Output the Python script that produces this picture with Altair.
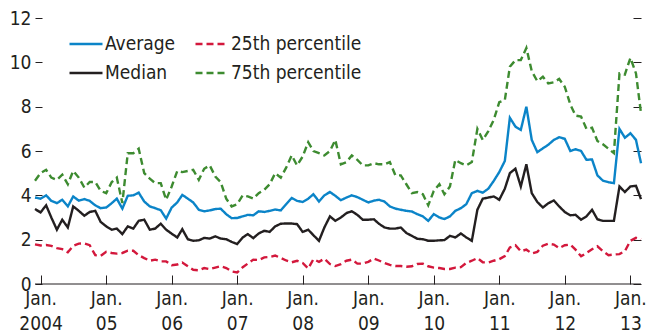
import altair as alt
import pandas as pd

# Monthly observations, Dec 2003 - Mar 2013
dates = pd.date_range("2003-12-01", periods=112, freq="MS").strftime("%Y-%m-%d").tolist()

series_names = ["Average", "Median", "25th percentile", "75th percentile"]

average = [3.90, 3.85, 4.00, 3.75, 3.65, 3.80, 3.50, 3.95, 3.76, 3.83,
           3.75, 3.55, 3.42, 3.45, 3.65, 3.85, 3.40, 3.98, 4.00, 4.12,
           3.72, 3.50, 3.42, 3.33, 2.95, 3.45, 3.68, 4.02, 3.85, 3.68,
           3.35, 3.28, 3.32, 3.38, 3.40, 3.15, 2.97, 2.98, 3.05, 3.12,
           3.10, 3.28, 3.25, 3.30, 3.36, 3.32, 3.60, 3.88, 3.75, 3.70,
           3.85, 4.05, 3.72, 4.00, 4.15, 3.98, 3.78, 3.90, 4.00, 3.92,
           3.80, 3.68, 3.76, 3.80, 3.72, 3.50, 3.40, 3.35, 3.30, 3.27,
           3.15, 3.05, 2.85, 3.15, 3.00, 2.93, 3.05, 3.30, 3.42, 3.60,
           4.10, 4.20, 4.12, 4.30, 4.65, 5.05, 5.55, 7.50, 7.10, 6.95,
           8.00, 6.50, 5.95, 6.12, 6.28, 6.50, 6.62, 6.55, 6.00, 6.08,
           6.00, 5.60, 5.62, 4.90, 4.66, 4.59, 4.55, 7.00, 6.60, 6.80,
           6.50, 5.45]

median = [3.38, 3.23, 3.55, 3.00, 2.45, 2.90, 2.55, 3.50, 3.30, 3.08,
          3.25, 3.30, 2.80, 2.60, 2.45, 2.50, 2.25, 2.60, 2.50, 2.85,
          2.90, 2.45, 2.50, 2.72, 2.45, 2.27, 2.10, 2.47, 2.02, 1.95,
          1.97, 2.08, 2.05, 2.15, 2.05, 2.02, 1.90, 1.80, 2.10, 2.25,
          2.07, 2.28, 2.40, 2.35, 2.60, 2.72, 2.73, 2.73, 2.70, 2.35,
          2.45, 2.20, 1.95, 2.55, 3.05, 2.85, 3.00, 3.20, 3.28, 3.12,
          2.90, 2.90, 2.92, 2.72, 2.55, 2.50, 2.50, 2.55, 2.30, 2.17,
          2.04, 2.02, 1.95, 1.95, 1.97, 1.98, 2.17, 2.10, 2.28, 2.10,
          1.95, 3.35, 3.85, 3.90, 3.95, 3.80, 4.30, 5.00, 5.20, 4.40,
          5.40, 4.10, 3.70, 3.45, 3.64, 3.77, 3.50, 3.25, 3.10, 3.12,
          2.90, 3.05, 3.35, 2.92, 2.85, 2.85, 2.85, 4.40, 4.15, 4.40,
          4.43, 3.83]

p25 = [1.79, 1.74, 1.76, 1.72, 1.62, 1.57, 1.43, 1.72, 1.82, 1.83,
       1.75, 1.30, 1.27, 1.45, 1.40, 1.37, 1.40, 1.50, 1.50, 1.30,
       1.17, 1.05, 1.10, 1.02, 1.02, 0.85, 0.88, 0.97, 0.80, 0.64,
       0.62, 0.72, 0.67, 0.74, 0.80, 0.72, 0.57, 0.52, 0.76, 0.92,
       1.10, 1.08, 1.20, 1.22, 1.28, 1.18, 1.06, 0.98, 1.05, 0.95,
       0.70, 1.12, 1.00, 1.14, 0.90, 0.81, 0.90, 1.05, 1.10, 0.92,
       0.92, 1.00, 1.15, 1.06, 0.95, 0.86, 0.81, 0.81, 0.78, 0.80,
       0.90, 0.92, 0.80, 0.74, 0.72, 0.68, 0.68, 0.74, 0.76, 0.95,
       1.05, 1.17, 0.98, 0.97, 1.05, 1.12, 1.26, 1.65, 1.75, 1.48,
       1.55, 1.38, 1.45, 1.73, 1.82, 1.78, 1.62, 1.75, 1.78, 1.55,
       1.25, 1.40, 1.57, 1.70, 1.48, 1.30, 1.33, 1.35, 1.48, 1.95,
       2.08, 2.02]

p75 = [4.66, 5.00, 5.15, 4.80, 4.70, 4.93, 4.50, 5.10, 4.80, 4.35,
       4.60, 4.60, 4.20, 4.10, 4.60, 4.80, 3.65, 5.90, 5.90, 6.10,
       5.00, 4.75, 4.55, 4.55, 3.80, 4.40, 5.10, 5.05, 5.10, 5.15,
       4.70, 5.20, 5.35, 4.85, 4.60, 3.85, 3.50, 3.60, 4.00, 3.95,
       3.85, 4.10, 4.25, 4.50, 5.00, 4.80, 5.25, 5.80, 5.35, 5.75,
       6.40, 6.00, 5.90, 5.80, 6.00, 6.50, 5.40, 5.50, 5.80, 5.60,
       5.35, 5.35, 5.45, 5.40, 5.40, 5.50, 4.90, 4.90, 4.50, 4.10,
       4.15, 4.05, 3.55, 4.20, 4.50, 4.05, 4.40, 5.60, 5.45, 5.35,
       5.50, 7.00, 6.50, 6.90, 7.40, 8.20, 8.30, 9.80, 10.10, 10.10,
       10.65, 9.60, 9.15, 9.35, 9.05, 9.10, 9.25, 8.90, 8.10, 7.60,
       7.55, 7.00, 7.05, 6.45, 6.30, 6.10, 5.90, 9.50, 9.45, 10.20,
       9.50, 7.70]

y_ticks = [0, 2, 4, 6, 8, 10, 12]
years = list(range(2004, 2014))

colors = ["#0b84c8", "#231f20", "#d3183c", "#3d8b30"]
dashes = [[1, 0], [1, 0], [7, 4], [7, 4]]

values_by_series = {"Average": average, "Median": median,
                    "25th percentile": p25, "75th percentile": p75}
df = pd.concat(
    [pd.DataFrame({"date": dates, "series": name, "value": vals})
     for name, vals in values_by_series.items()],
    ignore_index=True,
)

FONT = "'DejaVu Sans Condensed', 'Liberation Sans', sans-serif"
FS = 19
INK = "#231f20"

legend = alt.Legend(
    title=None, orient="none", legendX=33, legendY=8, columns=2,
    symbolType="stroke", symbolSize=1089, symbolStrokeWidth=2.5,
    labelFontSize=FS, labelFont=FONT, labelColor=INK, labelOffset=1,
    columnPadding=14, rowPadding=1, padding=0,
)

x_enc = alt.X(
    "date:T",
    scale=alt.Scale(
        type="utc",
        domain=[alt.DateTime(year=2003, month=12, date=1, utc=True),
                alt.DateTime(year=2013, month=3, date=1, utc=True)],
    ),
    axis=alt.Axis(
        values=[alt.DateTime(year=y, month=1, date=1, utc=True) for y in years],
        labelExpr="['Jan.', utcFormat(datum.value, '%Y') == '2004' ? '2004' : utcFormat(datum.value, '%y')]",
        offset=-9, tickSize=9, domain=False, grid=False,
        labelPadding=5, labelFontSize=FS, labelFont=FONT, labelColor=INK,
        labelLineHeight=25, labelAlign="center", labelBaseline="top",
        tickColor=INK, tickWidth=1, title=None,
    ),
)

lines = alt.Chart(df).mark_line(strokeWidth=2.4).encode(
    x=x_enc,
    y=alt.Y(
        "value:Q",
        scale=alt.Scale(domain=[0, 12], nice=False),
        axis=alt.Axis(
            values=y_ticks, offset=-7, tickSize=7, domain=False, grid=False,
            labelPadding=4, labelFontSize=FS, labelFont=FONT, labelColor=INK,
            tickColor=INK, tickWidth=1, title=None,
        ),
    ),
    color=alt.Color("series:N", scale=alt.Scale(domain=series_names, range=colors), legend=legend),
    strokeDash=alt.StrokeDash("series:N", scale=alt.Scale(domain=series_names, range=dashes), legend=legend),
)

baseline = alt.Chart(pd.DataFrame({"v": [0]})).mark_rule(color=INK, strokeWidth=1).encode(
    y=alt.Y(
        "v:Q",
        axis=alt.Axis(
            orient="right", values=y_ticks, offset=-8, tickSize=8, labels=False,
            domain=False, grid=False, tickColor=INK, tickWidth=1, title=None,
        ),
    )
)

chart = (
    alt.layer(lines, baseline)
    .resolve_axis(y="independent")
    .properties(
        width=606, height=266, autosize="none",
        padding={"left": 27, "top": 10, "right": 5, "bottom": 52},
        background="white",
    )
    .configure_view(stroke=None)
)

chart.save("out.html", embed_options={"renderer": "svg", "actions": False})
